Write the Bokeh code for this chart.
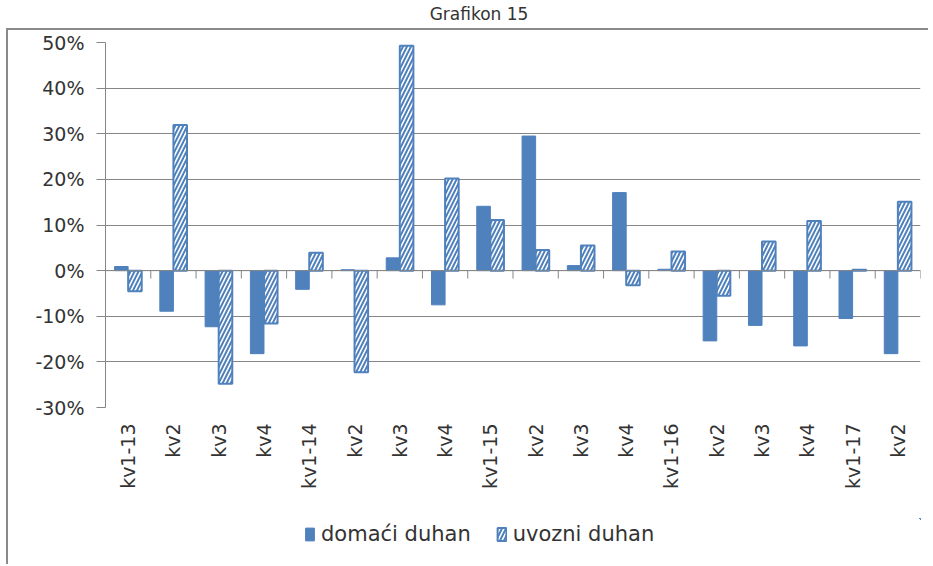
import math
from bokeh.plotting import figure
from bokeh.models import (ColumnDataSource, Range1d, FixedTicker, PrintfTickFormatter,
                          Legend, LegendItem, Div, Span)
from bokeh.layouts import column
from bokeh.transform import dodge
from bokeh.embed import file_html
from bokeh.resources import INLINE

# ---- data ----
categories = ["kv1-13", "kv2", "kv3", "kv4", "kv1-14", "kv2", "kv3", "kv4",
              "kv1-15", "kv2", "kv3", "kv4", "kv1-16", "kv2", "kv3", "kv4",
              "kv1-17", "kv2"]
domaci = [0.9, -8.9, -12.3, -18.2, -4.1, 0.2, 2.8, -7.5, 14.1, 29.5, 1.1, 17.1,
          0.3, -15.4, -12.0, -16.5, -10.5, -18.2]
uvozni = [-4.5, 31.9, -24.8, -11.6, 3.9, -22.3, 49.3, 20.2, 11.1, 4.5, 5.5, -3.2,
          4.2, -5.5, 6.4, 10.9, 0.2, 15.1]
y_ticks = [-30, -20, -10, 0, 10, 20, 30, 40, 50]
series_names = ["domaći duhan", "uvozni duhan"]
title_text = "Grafikon 15"

BLUE = "#4F81BD"
GRID = "#868686"
TEXT = "#333333"
FONT = "DejaVu Sans"
FRAME_LINE = "2px solid #8a8a8a"

n = len(categories)
idx = list(range(n))
src = ColumnDataSource(dict(x=idx, dom=domaci, uvo=uvozni))

MB_TOP, MB_BOTTOM, H = 12, 113, 490
p = figure(width=922, height=H, output_backend="svg", toolbar_location=None, tools="",
           x_range=Range1d(-0.5, n - 0.5), y_range=Range1d(min(y_ticks), max(y_ticks)),
           min_border_left=97, min_border_right=10, min_border_top=MB_TOP,
           min_border_bottom=MB_BOTTOM)
p.outline_line_color = None
p.background_fill_color = "white"
p.border_fill_color = "white"
p.xgrid.visible = False
p.ygrid.grid_line_color = GRID
p.ygrid.ticker = FixedTicker(ticks=y_ticks)

# y axis
p.yaxis.ticker = FixedTicker(ticks=y_ticks)
p.yaxis.formatter = PrintfTickFormatter(format="%d%%")
p.yaxis.axis_line_color = GRID
p.yaxis.major_tick_line_color = GRID
p.yaxis.major_tick_out = 9
p.yaxis.major_tick_in = 0
p.yaxis.minor_tick_line_color = None
p.yaxis.major_label_standoff = 12
p.yaxis.major_label_text_font = FONT
p.yaxis.major_label_text_font_size = "19px"
p.yaxis.major_label_text_color = TEXT

# x axis (labels only, at bottom)
p.xaxis.ticker = FixedTicker(ticks=idx)
p.xaxis.major_label_overrides = {i: c for i, c in zip(idx, categories)}
p.xaxis.major_label_orientation = math.pi / 2
p.xaxis.axis_line_color = None
p.xaxis.major_tick_line_color = None
p.xaxis.minor_tick_line_color = None
p.xaxis.major_label_standoff = 10
p.xaxis.major_label_text_font = FONT
p.xaxis.major_label_text_font_size = "19px"
p.xaxis.major_label_text_color = TEXT

# zero line with category separator ticks
p.add_layout(Span(location=0, dimension="width", line_color=GRID, line_width=1))
px_per_unit = (H - MB_TOP - MB_BOTTOM) / (max(y_ticks) - min(y_ticks))
tick_len = 8 / px_per_unit
bounds = [i + 0.5 for i in idx]
p.segment(x0=bounds, x1=bounds, y0=[0] * n, y1=[-tick_len] * n, line_color=GRID, line_width=1)

solid_style = dict(fill_color=BLUE, line_color=BLUE, line_width=1)
hatch_style = dict(fill_color="white", line_color=BLUE, line_width=2,
                   hatch_pattern="/", hatch_color=BLUE, hatch_weight=2, hatch_scale=8)

p.vbar(x=dodge("x", -0.15), top="dom", width=0.3, source=src, **solid_style)
p.vbar(x=dodge("x", 0.15), top="uvo", width=0.3, source=src, **hatch_style)
p.styles = {"border-left": FRAME_LINE, "border-top": FRAME_LINE, "margin-left": "6px"}

# ---- legend strip (its renderers sit outside the visible range) ----
lg = figure(width=922, height=46, output_backend="svg", toolbar_location=None, tools="",
            x_range=Range1d(-100, -99), y_range=Range1d(-100, -99),
            min_border=0, x_axis_location=None, y_axis_location=None)
lg.outline_line_color = None
lg.grid.visible = False
l1 = lg.vbar(x="x", top="dom", width=0.3, source=src, **solid_style)
l2 = lg.vbar(x="x", top="uvo", width=0.3, source=src, **hatch_style)
legend = Legend(items=[LegendItem(label=series_names[0], renderers=[l1], index=0),
                       LegendItem(label=series_names[1], renderers=[l2], index=0)],
                orientation="horizontal", location=(199, 18))
legend.border_line_color = None
legend.background_fill_alpha = 0
legend.label_text_font = FONT
legend.label_text_font_size = "21px"
legend.label_text_color = TEXT
legend.glyph_width = 11
legend.glyph_height = 16
legend.label_standoff = 6
legend.spacing = 25
legend.padding = 0
legend.margin = 0
lg.add_layout(legend, "center")
lg.styles = {"border-left": FRAME_LINE, "margin-left": "6px"}

title = Div(text=title_text, width=922, height=18,
            styles={"text-align": "center", "font-family": FONT, "font-size": "17px",
                    "color": TEXT, "line-height": "18px", "padding-left": "26px"})

layout = column(title, p, lg, spacing=0)
open("out.html", "w").write(file_html(layout, INLINE))
